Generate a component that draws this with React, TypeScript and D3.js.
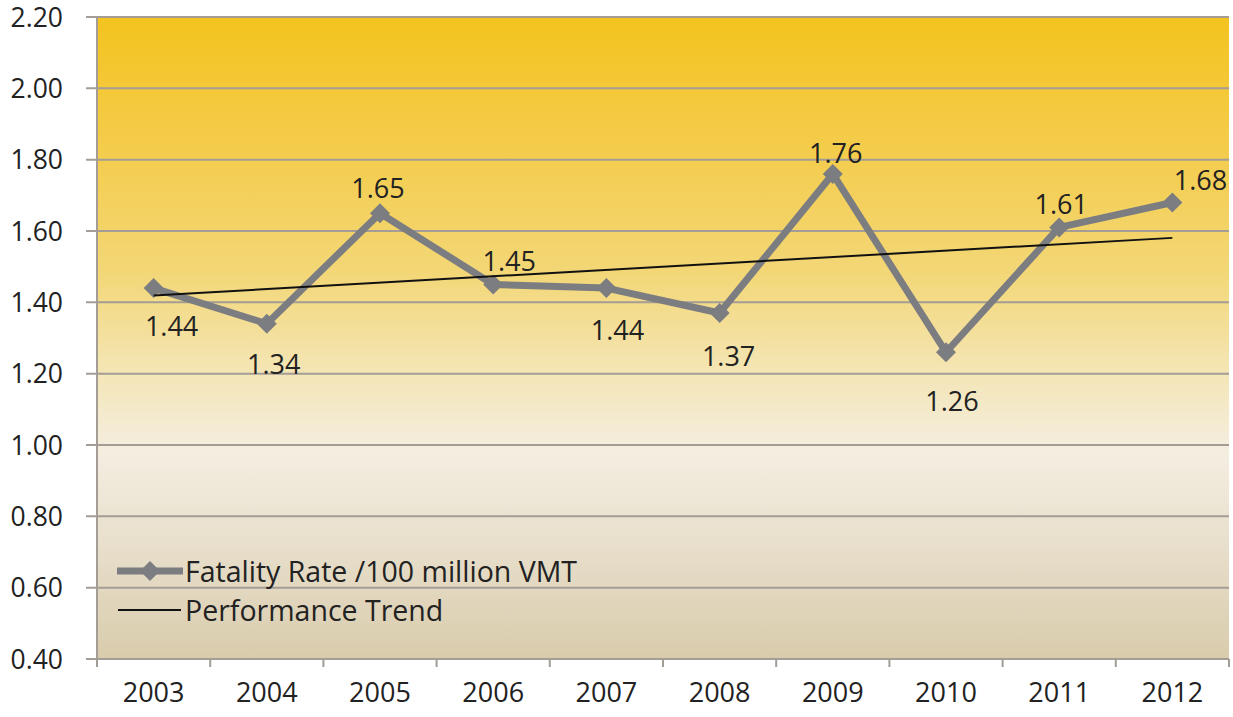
import React from "react";
import * as d3 from "d3";

const years = ["2003", "2004", "2005", "2006", "2007", "2008", "2009", "2010", "2011", "2012"];
const fatalityRate = [1.44, 1.34, 1.65, 1.45, 1.44, 1.37, 1.76, 1.26, 1.61, 1.68];
const yTicks = [0.4, 0.6, 0.8, 1.0, 1.2, 1.4, 1.6, 1.8, 2.0, 2.2];
const seriesName = "Fatality Rate /100 million VMT";
const trendName = "Performance Trend";
// label placement offsets (dx, dy) relative to each marker
const labelOffsets: [number, number][] = [
  [18, 38], [7, 41], [-2, -25], [16, -23], [11, 42], [9, 43], [3, -21], [6, 49], [2, -23], [28, -22],
];

const W = 1233;
const H = 717;
const M = { left: 97, right: 1229, top: 17, bottom: 659 };
const FONT = "'Open Sans', sans-serif";
const FS_Y = 26.5;
const FS_X = 27;
const FS_L = 27;
const FS_LEG = 28.5;

export default function App() {
  const x = d3.scaleBand<string>().domain(years).range([M.left, M.right]);
  const y = d3.scaleLinear().domain([0.4, 2.2]).range([M.bottom, M.top]);
  const cx = (i: number) => (x(years[i]) as number) + x.bandwidth() / 2;

  // least squares trend
  const n = fatalityRate.length;
  const mx = d3.mean(d3.range(n)) as number;
  const my = d3.mean(fatalityRate) as number;
  const sxy = d3.sum(fatalityRate, (v, i) => (i - mx) * (v - my));
  const sxx = d3.sum(d3.range(n), (i) => (i - mx) * (i - mx));
  const slope = sxy / sxx;
  const icpt = my - slope * mx;

  const line = d3
    .line<number>()
    .x((_, i) => cx(i))
    .y((d) => y(d));

  const diamond = (px: number, py: number, r: number) =>
    `M${px},${py - r}L${px + r},${py}L${px},${py + r}L${px - r},${py}Z`;

  const lineColor = "#7c7d81";
  const gridColor = "#a39d95";

  return (
    <svg width={W} height={H} style={{ position: "absolute", left: 0, top: 0, background: "#fff" }}>
      <defs>
        <linearGradient id="bg" x1="0" y1="0" x2="0" y2="1">
          <stop offset="0" stopColor="#f3c31f" />
          <stop offset="0.18" stopColor="#f4cb46" />
          <stop offset="0.4" stopColor="#f3d777" />
          <stop offset="0.56" stopColor="#f4e6b8" />
          <stop offset="0.68" stopColor="#f4eee1" />
          <stop offset="0.82" stopColor="#e8dfcc" />
          <stop offset="1" stopColor="#d9ccac" />
        </linearGradient>
      </defs>
      <rect x={M.left} y={M.top} width={M.right - M.left} height={M.bottom - M.top} fill="url(#bg)" />
      {yTicks.map((t) => (
        <g key={t}>
          <line x1={86} x2={M.right} y1={y(t)} y2={y(t)} stroke={gridColor} strokeWidth={2} />
          <text
            x={63}
            y={y(t)}
            dy="0.36em"
            textAnchor="end"
            fontFamily={FONT}
            fontSize={FS_Y}
            fill="#222"
          >
            {t.toFixed(2)}
          </text>
        </g>
      ))}
      <line x1={M.left} x2={M.left} y1={M.top} y2={M.bottom} stroke={gridColor} strokeWidth={2} />
      <line x1={M.left} x2={M.right} y1={M.bottom} y2={M.bottom} stroke={gridColor} strokeWidth={2} />
      {years.map((yr) => (
        <line
          key={"t" + yr}
          x1={(x(yr) as number) + x.bandwidth()}
          x2={(x(yr) as number) + x.bandwidth()}
          y1={M.bottom}
          y2={M.bottom + 8}
          stroke={gridColor}
          strokeWidth={2}
        />
      ))}
      <line x1={M.left} x2={M.left} y1={M.bottom} y2={M.bottom + 8} stroke={gridColor} strokeWidth={2} />
      {years.map((yr, i) => (
        <text
          key={"x" + yr}
          x={cx(i)}
          y={692}
          dy="0.36em"
          textAnchor="middle"
          fontFamily={FONT}
          fontSize={FS_X}
          fill="#222"
        >
          {yr}
        </text>
      ))}
      <path d={line(fatalityRate) as string} fill="none" stroke={lineColor} strokeWidth={7} strokeLinejoin="round" />
      {fatalityRate.map((v, i) => (
        <path key={"m" + i} d={diamond(cx(i), y(v), 10)} fill={lineColor} />
      ))}
      <line
        x1={cx(0)}
        x2={cx(n - 1)}
        y1={y(icpt)}
        y2={y(icpt + slope * (n - 1))}
        stroke="#111"
        strokeWidth={2}
      />
      {fatalityRate.map((v, i) => (
        <text
          key={"l" + i}
          x={cx(i) + labelOffsets[i][0]}
          y={y(v) + labelOffsets[i][1]}
          dy="0.36em"
          textAnchor="middle"
          fontFamily={FONT}
          fontSize={FS_L}
          fill="#222"
        >
          {v.toFixed(2)}
        </text>
      ))}
      <g>
        <line x1={117} x2={183} y1={571} y2={571} stroke={lineColor} strokeWidth={7} />
        <path d={diamond(150, 571, 10)} fill={lineColor} />
        <text x={185} y={572} dy="0.36em" fontFamily={FONT} fontSize={FS_LEG} fill="#222">
          {seriesName}
        </text>
        <line x1={118} x2={181} y1={610} y2={610} stroke="#111" strokeWidth={2} />
        <text x={185} y={611} dy="0.36em" fontFamily={FONT} fontSize={FS_LEG} fill="#222">
          {trendName}
        </text>
      </g>
    </svg>
  );
}
